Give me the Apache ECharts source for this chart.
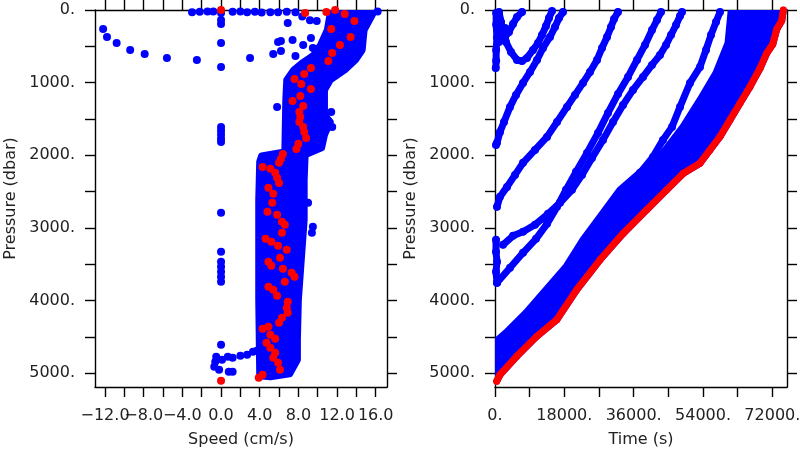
<!DOCTYPE html>
<html><head><meta charset="utf-8">
<script src="https://cdn.jsdelivr.net/npm/echarts@6/dist/echarts.min.js"></script>
<style>html,body{margin:0;padding:0;background:#fff}#c{width:800px;height:450px}</style>
</head><body><div id="c"></div>
<script>
// ---------- tick labels ----------
const speedTicks = [-12,-10,-8,-6,-4,-2,0,2,4,6,8,10,12,14,16];
const speedLabelVals = [-12,-8,-4,0,4,8,12,16];
const speedLabels = ['\u221212.0','\u22128.0','\u22124.0','0.0','4.0','8.0','12.0','16.0'];
const pressTicks = [0,500,1000,1500,2000,2500,3000,3500,4000,4500,5000];
const pressLabelVals = [0,1000,2000,3000,4000,5000];
const pressLabels = ['0.','1000.','2000.','3000.','4000.','5000.'];
const timeTicks = [0,9000,18000,27000,36000,45000,54000,63000,72000];
const timeLabelVals = [0,18000,36000,54000,72000];
const timeLabels = ['0.','18000.','36000.','54000.','72000.'];

// ---------- left panel: speed vs pressure ----------
// dense cloud outline (speed, pressure)
const blobSpeed = [15.8,14.8,14.6,13.9,12.8,11.3,10.7,10.7,11.3,10.7,10.4,8.7,8.6,8.6,8.3,8.0,7.9,7.9,7.1,5.1,4.0,
                   4.0,3.9,3.9,4.0,4.2,6.6,6.7,6.8,7.5,8.5,9.6,10.3,11.0,11.3];
const blobPress = [28,275,550,688,825,963,1100,1444,1540,1720,1898,1994,2338,2889,3439,3989,4539,4814,5007,5048,5034,
                   4979,3989,2613,2091,2008,1953,1238,963,830,720,620,481,275,41];
// scattered blue points
const blueSpeed = [-12.2,-11.8,-10.8,-9.4,-7.9,-5.6,-2.5,0,3.0,5.4,6.2,5.9,6.2,6.9,7.7,7.4,8.5,9.3,9.5,5.8,11.4,11.5,
  0,0,0,0,0,0,0,0,0,0,0,0,0,0,0,
  -0.5,-0.6,-0.7,-0.2,0.1,0.7,1.2,2.0,2.7,3.3,3.7,0.8,1.2,0,
  -3.0,-2.2,-1.4,-0.8,0,1.2,2.0,2.7,3.5,4.2,5.1,5.9,6.8,7.7,8.4,9.2,9.9,16.2,
  9.0,9.5,9.4];
const bluePress = [261,371,454,550,605,660,688,784,660,605,564,440,426,179,633,413,481,385,523,1334,1403,1609,
  138,193,454,1609,1664,1719,1774,1816,2792,3329,3466,3535,3604,3673,3741,
  4773,4842,4911,4952,4814,4773,4787,4759,4745,4704,4690,4979,4979,4608,
  30,25,20,20,40,25,20,30,25,35,30,30,25,30,90,140,150,20,
  2655,2985,3067];
// red points
const redSpeed = [0,8.7,10.9,11.8,12.8,13.8,11.4,13.4,12.3,11.5,11.1,9.3,8.6,7.6,8.3,9.3,8.2,7.4,8.5,8.1,8.2,8.1,8.5,8.6,8.8,8.0,7.8,
  6.4,6.2,6.0,4.3,5.1,5.6,5.8,6.0,4.9,5.4,5.3,4.8,5.8,6.3,6.6,6.3,4.6,5.2,5.9,6.8,6.1,4.9,5.2,6.4,7.3,7.6,6.6,4.9,5.4,5.8,
  6.9,6.8,6.9,6.3,6.0,4.9,4.3,5.1,5.6,4.7,5.1,5.6,5.4,5.9,6.1,4.3,3.9,0.0];
const redPress = [0,41,28,0,55,151,261,371,481,591,701,798,880,949,1018,1087,1183,1252,1320,1403,1472,1541,1609,1678,1761,1843,1912,
  1981,2050,2104,2160,2187,2242,2311,2380,2448,2531,2655,2779,2820,2916,2957,3067,3150,3191,3246,3301,3411,3466,3521,3563,3618,3673,3741,3810,3851,3934,
  4016,4099,4168,4237,4305,4360,4388,4470,4525,4580,4649,4718,4787,4856,4952,5021,5062,5103];

// ---------- right panel: time vs pressure ----------
const bandTime = [61270,60490,57370,53220,48800,43610,38420,32450,28040,22840,18430,13240,8050,2860,780,400,400];
const bandPress = [28,454,867,1238,1609,1967,2201,2476,2792,3164,3535,3851,4168,4443,4539,4600,5100];
const redTime = [74850,74420,73130,72090,70530,68800,66200,63600,61000,58400,55800,53220,48900,44570,39380,33320,27260,21200,16020,10830,5630,1300,440];
const redTimePress = [0,147,266,472,596,802,1055,1283,1513,1743,1926,2109,2247,2476,2751,3072,3439,3851,4264,4493,4768,5020,5110];
// descent tracks
const trk0T = [300,300,500,300,300,200];
const trk0P = [40,200,380,550,700,800];
const trk1T = [1038,1558,2077,2856,4154,5711,7009,8307,9865,11163,12201,13240,14018,14797];
const trk1P = [28,165,303,440,578,688,702,660,550,454,344,220,110,14];
const trk1bT = [1038,2596,3634,4673,5711,7009];
const trk1bP = [440,370,303,193,96,28];
const trk2T = [260,519,1298,2336,3894,5452,7269,9086,10903,12461,14278,15576,16614,17653];
const trk2P = [1857,1829,1678,1541,1334,1169,1004,853,688,523,371,234,110,28];
const trk3T = [519,1298,3115,5192,7269,10384,13499,16095,18691,20768,22845,24662,26479,27777,29075,30114,30893,31931];
const trk3P = [2710,2572,2435,2270,2104,1926,1747,1541,1334,1169,1004,853,688,523,371,234,124,28];
const trk4aT = [519,3894,7269,10644,13499,16095,18432,21028,23883,26739,29335,31931,34527,36863,38940,40757,42055,43094];
const trk4aP = [3755,3549,3342,3150,2944,2710,2476,2228,1967,1692,1417,1155,922,688,481,275,138,28];
const trk4bT = [2077,4673,7269,10384,13759,16874,19989,22585,25181,28037,30633,33229,35825,38421,40757,42834,44392,45690,46988,48026,48545];
const trk4bP = [3232,3109,3054,2957,2806,2655,2476,2270,2036,1788,1541,1307,1100,922,756,619,481,344,206,83,28];
const trk4cT = [260,260,519,260,519];
const trk4cP = [3164,3329,3466,3604,3755];
const trk5T = [58410,57371,56073,54775,53217,50621,48025,45948,43612,41016,37641];
const trk5P = [28,165,344,550,784,1004,1334,1609,1788,2022,2242];
const cornerT = [519,1298,2596,779,1817];
const cornerP = [69,138,248,275,385];

// ---------- build ----------
const zip = (a,b) => a.map((v,i)=>[v,b[i]]);
const BLUE = '#0000ff', RED = '#ff0000';
const FONT = 'DejaVu Sans';
const lbl = (vals, labs) => (v) => { const i = vals.indexOf(v); return i >= 0 ? labs[i] : ''; };
const pick = (arr, step, off) => arr.filter((_, i) => i % step === off);

function polySeries(xi, yi, xs, ys) {
  return {
    type: 'custom', xAxisIndex: xi, yAxisIndex: yi, clip: true, z: 1,
    data: [[xs[0], ys[0]]],
    renderItem: function (params, api) {
      const pts = xs.map((v,i)=>api.coord([v, ys[i]]));
      return { type: 'polygon', shape: { points: pts },
        style: { fill: BLUE, stroke: BLUE, lineWidth: 7, lineJoin: 'round' } };
    }
  };
}
function trackSeries(xs, ys) {
  return { type: 'line', xAxisIndex: 3, yAxisIndex: 2, data: zip(xs, ys), z: 2,
    symbol: 'circle', symbolSize: 8, showSymbol: true, showAllSymbol: true,
    itemStyle: { color: BLUE, borderWidth: 0 }, lineStyle: { color: BLUE, width: 7, cap: 'round', join: 'round' } };
}

const axisLineS = { show: true, onZero: false, lineStyle: { color: '#000', width: 1.4 } };
const tickS = (vals) => ({ show: true, inside: false, length: 10, customValues: vals, lineStyle: { color: '#000', width: 1.4 } });
const txt = { color: '#222', fontFamily: FONT, fontSize: 16 };
// mode: 'main' (line, ticks, labels, name), 'labels' (labels only), 'top' (line + ticks only)
function xAx(grid, min, max, ticks, lvals, labs, name, mode) {
  return { type: 'value', gridIndex: grid, min: min, max: max, position: mode === 'top' ? 'top' : 'bottom',
    axisLine: mode === 'labels' ? { show: false, onZero: false } : axisLineS, splitLine: { show: false },
    axisTick: mode === 'labels' ? { show: false } : tickS(ticks),
    axisLabel: mode === 'top' ? { show: true, formatter: () => '', fontSize: 1 } :
      Object.assign({ show: true, customValues: lvals, formatter: lbl(lvals, labs),
      margin: 21, hideOverlap: false, showMinLabel: true, showMaxLabel: true }, txt),
    name: mode === 'main' ? name : '', nameLocation: 'middle', nameGap: 45,
    nameTextStyle: txt };
}
function yAx(grid, right) {
  return { type: 'value', gridIndex: grid, min: 0, max: 5190, inverse: true, position: right ? 'right' : 'left',
    axisLine: axisLineS, splitLine: { show: false },
    axisTick: tickS(pressTicks),
    axisLabel: right ? { show: false } : Object.assign({ show: true, customValues: pressLabelVals, formatter: lbl(pressLabelVals, pressLabels),
      margin: 20, hideOverlap: false }, txt),
    name: right ? '' : 'Pressure (dbar)', nameLocation: 'middle', nameGap: 76,
    nameTextStyle: txt };
}

const sA = pick(speedLabelVals, 2, 0), sB = pick(speedLabelVals, 2, 1);
const chart = echarts.init(document.getElementById('c'), null, { renderer: 'canvas' });
chart.setOption({
  animation: false,
  backgroundColor: '#fff',
  grid: [
    { left: 95, top: 10, width: 292, height: 377, outerBoundsMode: 'none' },
    { left: 495, top: 10, width: 292, height: 377, outerBoundsMode: 'none' }
  ],
  xAxis: [
    xAx(0, -13.04, 17.17, speedTicks, [], [], '', 'top'),
    xAx(0, -13.04, 17.17, speedTicks, sA, pick(speedLabels, 2, 0), 'Speed (cm/s)', 'main'),
    xAx(0, -13.04, 17.17, speedTicks, sB, pick(speedLabels, 2, 1), '', 'labels'),
    xAx(1, 0, 75800, timeTicks, timeLabelVals, timeLabels, 'Time (s)', 'main'),
    xAx(1, 0, 75800, timeTicks, [], [], '', 'top')
  ],
  yAxis: [ yAx(0, false), yAx(0, true), yAx(1, false), yAx(1, true) ],
  series: [
    polySeries(1, 0, blobSpeed, blobPress),
    { type: 'scatter', xAxisIndex: 1, yAxisIndex: 0, data: zip(blueSpeed, bluePress), symbolSize: 8,
      itemStyle: { color: BLUE, opacity: 1 }, z: 2 },
    { type: 'scatter', xAxisIndex: 1, yAxisIndex: 0, data: zip(redSpeed, redPress), symbolSize: 8,
      itemStyle: { color: RED, opacity: 1 }, z: 3 },
    polySeries(3, 2, bandTime.concat(redTime.slice().reverse()), bandPress.concat(redTimePress.slice().reverse())),
    trackSeries(trk0T, trk0P), trackSeries(trk1T, trk1P), trackSeries(trk1bT, trk1bP),
    trackSeries(trk2T, trk2P), trackSeries(trk3T, trk3P), trackSeries(trk4aT, trk4aP),
    trackSeries(trk4bT, trk4bP), trackSeries(trk4cT, trk4cP), trackSeries(trk5T, trk5P),
    { type: 'scatter', xAxisIndex: 3, yAxisIndex: 2, data: zip(cornerT, cornerP), symbolSize: 8,
      itemStyle: { color: BLUE, opacity: 1 }, z: 2 },
    { type: 'line', xAxisIndex: 3, yAxisIndex: 2, data: zip(redTime, redTimePress), z: 3,
      symbol: 'circle', symbolSize: 7, showSymbol: true, showAllSymbol: true,
      itemStyle: { color: RED, borderWidth: 0 }, lineStyle: { color: RED, width: 7, cap: 'round', join: 'round' } }
  ]
});
</script>
</body></html>
